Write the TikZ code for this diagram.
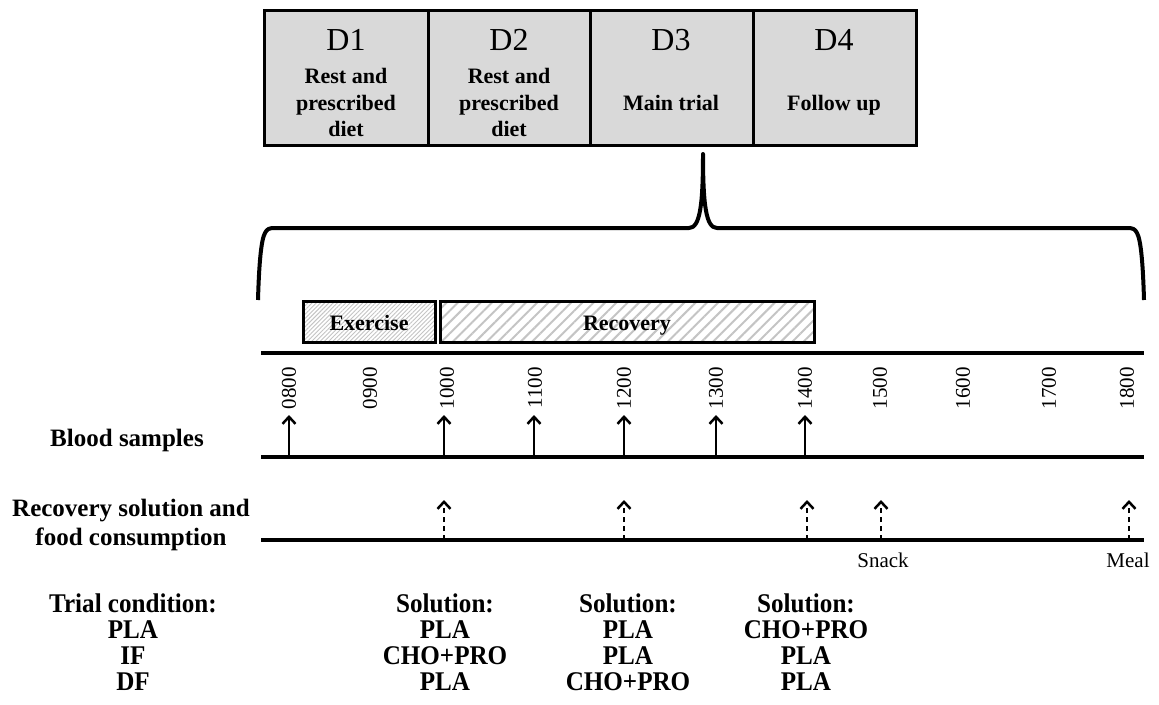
\documentclass[tikz,border=0pt]{standalone}
\usepackage{fontspec}
\setmainfont{Liberation Serif}
\newfontfamily\condserif[FakeStretch=0.93]{Liberation Serif}
\usetikzlibrary{arrows.meta,patterns.meta}
\definecolor{boxgray}{HTML}{D9D9D9}
\definecolor{hatchgray}{HTML}{C4C4C4}
\tikzset{
  daybox/.style={draw=black,line width=3pt,fill=boxgray},
  dayhead/.style={font=\fontsize{32}{36}\selectfont,anchor=base,inner sep=0pt},
  daytext/.style={font=\fontsize{22}{26}\selectfont\bfseries,anchor=base,inner sep=0pt},
  phase/.style={draw=black,line width=3pt},
  phasetext/.style={font=\fontsize{22}{26}\selectfont\bfseries,anchor=base,inner sep=0pt},
  tline/.style={line width=4pt},
  brace/.style={line width=4pt,line join=round},
  timelab/.style={font=\fontsize{21}{24}\selectfont,rotate=90,anchor=center},
  blood/.style={line width=2.5pt,-{Straight Barb[length=7pt,width=13pt,line width=2.5pt]}},
  food/.style={line width=2.5pt,dash pattern=on 5pt off 4pt,-{Straight Barb[length=7pt,width=13pt,line width=2.5pt]}},
  sidelab/.style={font=\fontsize{25}{30}\selectfont\bfseries,anchor=base,inner sep=0pt},
  smalllab/.style={font=\fontsize{21}{24}\selectfont,anchor=base,inner sep=0pt},
  bottomtext/.style={font=\condserif\fontsize{27}{28}\selectfont\bfseries,anchor=base,inner sep=0pt},
}
\begin{document}
\begin{tikzpicture}[x=1pt,y=-1pt]
\useasboundingbox (0,0) rectangle (1159,704);
% day boxes
\draw[daybox] (264,10) rectangle (428,145);
\draw[daybox] (428,10) rectangle (590,145);
\draw[daybox] (590,10) rectangle (753,145);
\draw[daybox] (753,10) rectangle (916,145);
\node[dayhead] (d1) at (346,50) {D1};
\node[dayhead] (d2) at (509,50) {D2};
\node[dayhead] (d3) at (671,50) {D3};
\node[dayhead] (d4) at (834,50) {D4};
\node[daytext] (t1a) at (346,83) {Rest and};
\node[daytext] (t1b) at (346,110) {prescribed};
\node[daytext] (t1c) at (346,136) {diet};
\node[daytext] (t2a) at (509,83) {Rest and};
\node[daytext] (t2b) at (509,110) {prescribed};
\node[daytext] (t2c) at (509,136) {diet};
\node[daytext] (t3) at (671,110) {Main trial};
\node[daytext] (t4) at (834,110) {Follow up};
% brace
\draw[brace] (258,300) .. controls (259,265) and (261,240) .. (265,233)
  .. controls (267,229) and (269,228) .. (275,228)
  -- (689,228) .. controls (700,228) and (703,205) .. (703,154)
  .. controls (703,205) and (706,228) .. (717,228)
  -- (1127,228) .. controls (1133,228) and (1135,229) .. (1137,233)
  .. controls (1141,240) and (1143,265) .. (1144,300);
% phases
\fill[white] (303,301) rectangle (435,342);
\fill[pattern={Lines[angle=45,distance=3pt,line width=0.9pt]},pattern color=hatchgray] (303,301) rectangle (435,342);
\draw[phase] (303,301) rectangle (435,342);
\fill[pattern={Lines[angle=45,distance=8pt,line width=2pt]},pattern color=hatchgray] (440,301) rectangle (814,342);
\draw[phase] (440,301) rectangle (814,342);
\node[phasetext] (ex) at (369,330) {Exercise};
\node[phasetext] (rec) at (627,330) {Recovery};
% timelines
\coordinate (l1a) at (261,353); \coordinate (l1b) at (1144,353);
\coordinate (l2a) at (261,457); \coordinate (l2b) at (1144,457);
\coordinate (l3a) at (261,540); \coordinate (l3b) at (1144,540);
\draw[tline] (l1a) -- (l1b);
\draw[tline] (l2a) -- (l2b);
\draw[tline] (l3a) -- (l3b);
% time labels
\foreach \x/\t in {289/0800,370/0900,447/1000,535/1100,624/1200,716/1300,805/1400,880/1500,963/1600,1049/1700,1127/1800}
  \node[timelab] (lab\t) at (\x,388) {\t};
% blood sample arrows
\foreach \x [count=\i] in {289,444,534,624,716,805}{
  \coordinate (bs\i) at (\x,457); \coordinate (be\i) at (\x,415);
  \draw[blood] (bs\i) -- (be\i);}
% food arrows
\foreach \x [count=\i] in {444,624,807,881,1129}{
  \coordinate (fs\i) at (\x,540); \coordinate (fe\i) at (\x,500);
  \draw[food] (fs\i) -- (fe\i);}
\node[smalllab] (snack) at (883,567) {Snack};
\node[smalllab] (meal) at (1128,567) {Meal};
% side labels
\node[sidelab] (blood) at (127,446) {Blood samples};
\node[sidelab] (foodla) at (131,516) {Recovery solution and};
\node[sidelab] (foodlb) at (131,545) {food consumption};
% bottom table
\foreach \x/\a/\b/\c/\d/\n in {133/Trial condition:/PLA/IF/DF/0,445/Solution:/PLA/CHO+PRO/PLA/1,628/Solution:/PLA/PLA/CHO+PRO/2,806/Solution:/CHO+PRO/PLA/PLA/3}{
  \node[bottomtext] (r\n a) at (\x,612) {\a};
  \node[bottomtext] (r\n b) at (\x,638) {\b};
  \node[bottomtext] (r\n c) at (\x,664) {\c};
  \node[bottomtext] (r\n d) at (\x,690) {\d};}
\end{tikzpicture}
\end{document}
